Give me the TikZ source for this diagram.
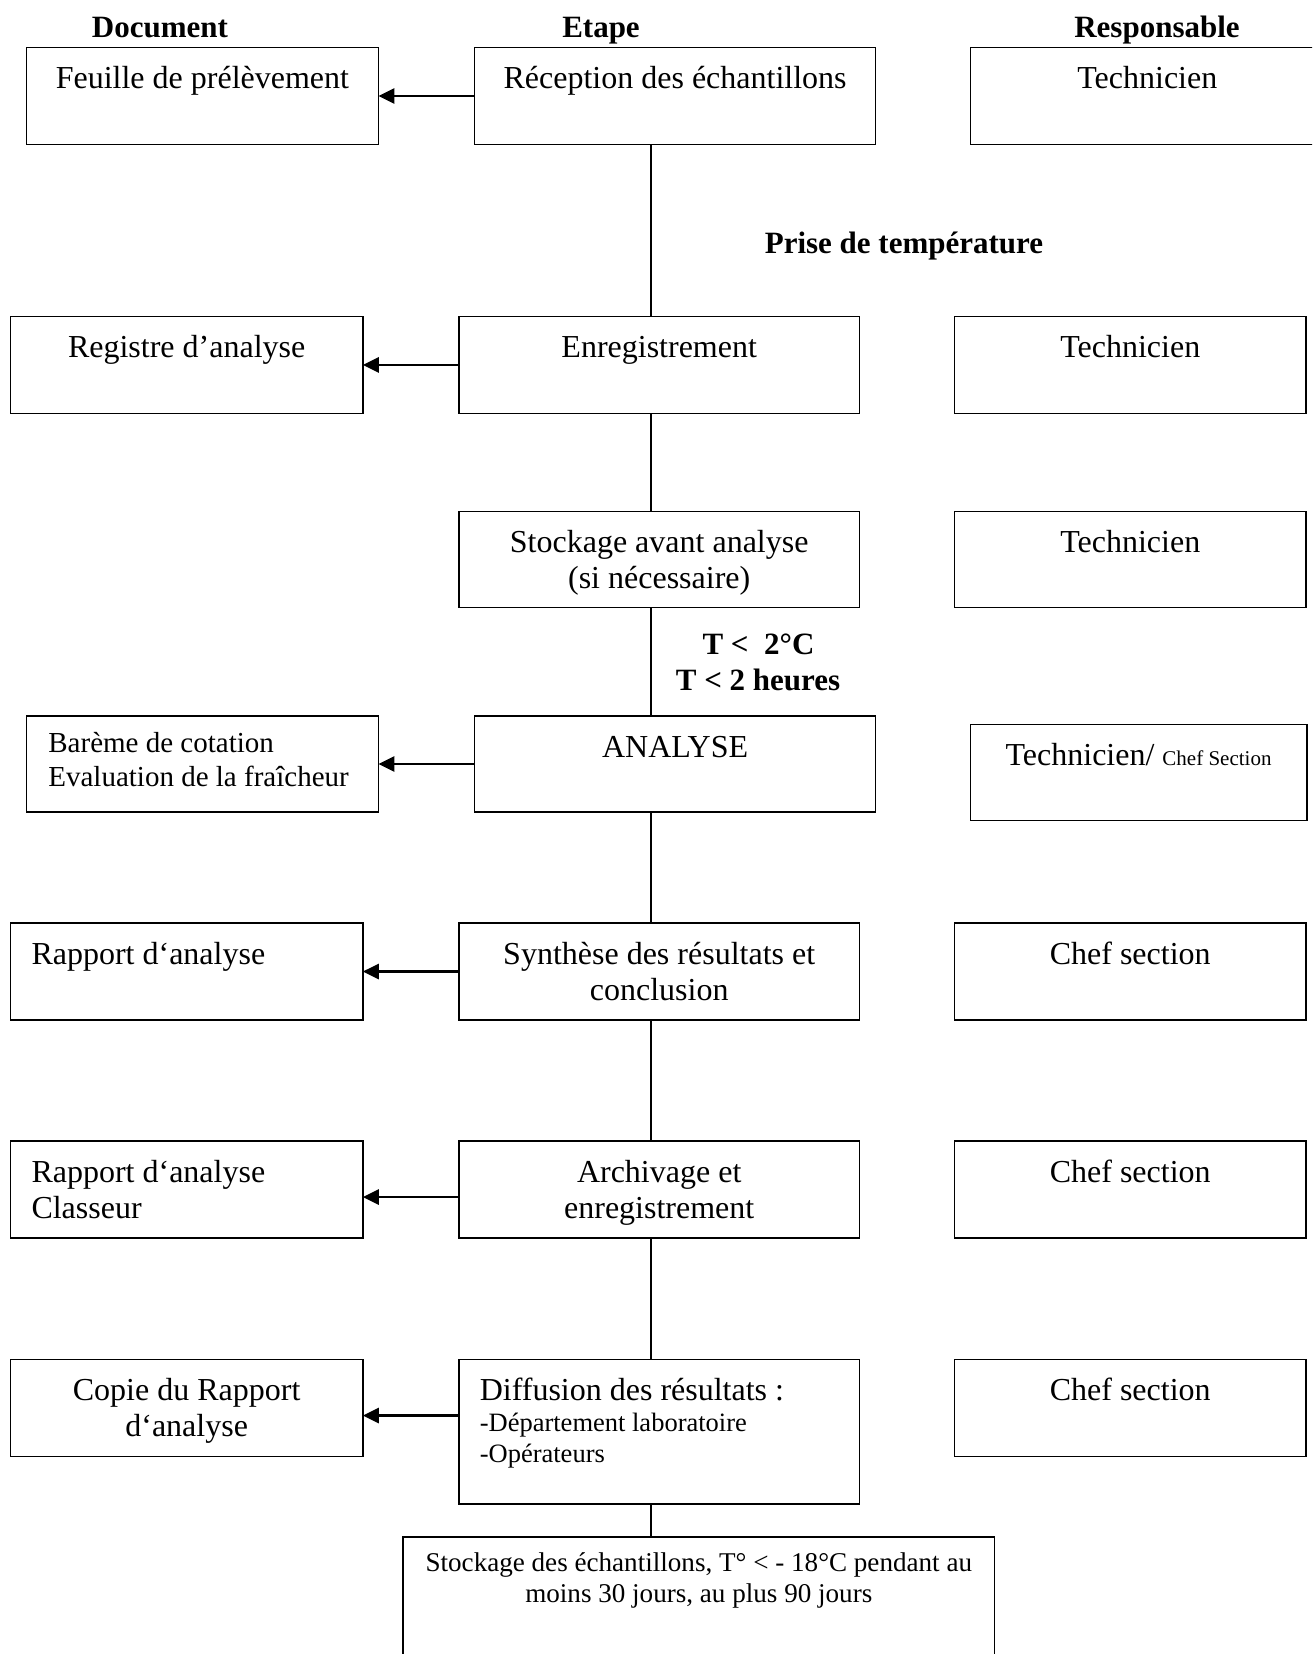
\documentclass[tikz,border=0pt]{standalone}
\usepackage{fontspec}
\setmainfont{Liberation Serif}
\usetikzlibrary{arrows.meta,calc}
\begin{document}
\begin{tikzpicture}[x=1pt,y=-1pt,
  box/.style={draw, rectangle, line width=1.6pt, inner sep=0pt, outer sep=0pt, anchor=north west},
  txt/.style={inner sep=0pt, outer sep=0pt, anchor=north, align=center, font=\fontsize{32}{36}\selectfont},
  txtl/.style={txt, anchor=north west, align=left},
  small/.style={inner sep=0pt, outer sep=0pt, anchor=north west, align=left, font=\fontsize{29}{34}\selectfont},
  sub/.style={inner sep=0pt, outer sep=0pt, anchor=north west, align=left, font=\fontsize{26.5}{31.6}\selectfont},
  foot/.style={inner sep=0pt, outer sep=0pt, anchor=north, align=center, font=\fontsize{27.1}{30.6}\selectfont},
  hdr/.style={inner sep=0pt, outer sep=0pt, anchor=base, align=center, font=\fontsize{31}{36}\selectfont\bfseries},
  arr/.style={line width=2.8pt, -{Triangle[length=16pt,width=15pt]}},
  link/.style={line width=1.4pt}]

% page frame
\clip (0,0) rectangle (1312,1654);
\fill[white] (0,0) rectangle (1312,1654);

% column headings
\node[hdr] (h-doc) at (160,37.5) {Document};
\node[hdr] (h-step) at (601,37.5) {Etape};
\node[hdr] (h-resp) at (1157,37.5) {Responsable};

% row 1
\node[box, minimum width=352pt, minimum height=97pt] (feuille) at (26.4,47.5) {};
\node[box, minimum width=401pt, minimum height=97pt] (recep) at (474.6,47.5) {};
\node[box, minimum width=354pt, minimum height=97pt] (resp1) at (970.3,47.5) {};
\node[txt] (feuille-t) at ($(feuille.north)+(0,16.2)$) {\strut Feuille de prélèvement};
\node[txt] (recep-t) at ($(recep.north)+(0,16.2)$) {\strut Réception des échantillons};
\node[txt] (resp1-t) at ($(resp1.north)+(0,16.2)$) {\strut Technicien};

\node[hdr] (prise) at (904,253.5) {Prise de température};

% row 2
\node[box, minimum width=352.3pt, minimum height=97pt] (registre) at (10.5,316.4) {};
\node[box, minimum width=400.8pt, minimum height=97pt] (enreg) at (458.8,316.4) {};
\node[box, minimum width=351.5pt, minimum height=97pt] (resp2) at (954.5,316.4) {};
\node[txt] (registre-t) at ($(registre.north)+(0,16.2)$) {\strut Registre d’analyse};
\node[txt] (enreg-t) at ($(enreg.north)+(0,16.2)$) {\strut Enregistrement};
\node[txt] (resp2-t) at ($(resp2.north)+(0,16.2)$) {\strut Technicien};

% row 3
\node[box, minimum width=400.8pt, minimum height=96pt] (stock) at (458.8,511.5) {};
\node[box, minimum width=351.5pt, minimum height=96pt] (resp3) at (954.5,511.5) {};
\node[txt] (stock-t) at ($(stock.north)+(0,16.2)$) {\strut Stockage avant analyse\\(si nécessaire)};
\node[txt] (resp3-t) at ($(resp3.north)+(0,16.2)$) {\strut Technicien};

\node[hdr] (cond1) at (758.5,654) {T < ~2°C};
\node[hdr] (cond2) at (758,690.3) {T < 2 heures};

% row 4
\node[box, minimum width=352pt, minimum height=96pt] (bareme) at (26.4,716) {};
\node[box, minimum width=401pt, minimum height=96pt] (analyse) at (474.6,716) {};
\node[box, minimum width=336.5pt, minimum height=96pt] (resp4) at (970.3,724.6) {};
\node[small] (bareme-t) at ($(bareme.north west)+(22,13)$) {\strut Barème de cotation\\Evaluation de la fraîcheur};
\node[txt] (analyse-t) at ($(analyse.north)+(0,16.2)$) {\strut ANALYSE};
\node[txt] (resp4-t) at ($(resp4.north)+(0,15.2)$) {\strut Technicien/ {\fontsize{21}{24}\selectfont Chef Section}};

% row 5
\node[box, minimum width=352.3pt, minimum height=97pt] (rapport) at (10.5,923) {};
\node[box, minimum width=400.8pt, minimum height=97pt] (synth) at (458.8,923) {};
\node[box, minimum width=351.5pt, minimum height=97pt] (resp5) at (954.5,923) {};
\node[txtl] (rapport-t) at ($(rapport.north west)+(21,16.2)$) {\strut Rapport d‘analyse};
\node[txt] (synth-t) at ($(synth.north)+(0,16.2)$) {\strut Synthèse des résultats et\\conclusion};
\node[txt] (resp5-t) at ($(resp5.north)+(0,16.2)$) {\strut Chef section};

% row 6
\node[box, minimum width=352.3pt, minimum height=97pt] (rapport2) at (10.5,1141) {};
\node[box, minimum width=400.8pt, minimum height=97pt] (archiv) at (458.8,1141) {};
\node[box, minimum width=351.5pt, minimum height=97pt] (resp6) at (954.5,1141) {};
\node[txtl] (rapport2-t) at ($(rapport2.north west)+(21,16.2)$) {\strut Rapport d‘analyse\\Classeur};
\node[txt] (archiv-t) at ($(archiv.north)+(0,16.2)$) {\strut Archivage et\\enregistrement};
\node[txt] (resp6-t) at ($(resp6.north)+(0,16.2)$) {\strut Chef section};

% row 7
\node[box, minimum width=352.3pt, minimum height=97pt] (copie) at (10.5,1359.5) {};
\node[box, minimum width=400.8pt, minimum height=144.5pt] (diff) at (458.8,1359.5) {};
\node[box, minimum width=351.5pt, minimum height=97pt] (resp7) at (954.5,1359.5) {};
\node[txt] (copie-t) at ($(copie.north)+(0,16.2)$) {\strut Copie du Rapport\\d‘analyse};
\node[txtl] (diff-t) at ($(diff.north west)+(21,16.2)$) {\strut Diffusion des résultats :};
\node[sub] (diff-s) at ($(diff.north west)+(21,49.5)$) {\strut -Département laboratoire\\-Opérateurs};
\node[txt] (resp7-t) at ($(resp7.north)+(0,16.2)$) {\strut Chef section};

% final storage
\node[box, minimum width=591.6pt, minimum height=140pt] (final) at (403,1536.7) {};
\node[foot] (final-t) at ($(final.north)+(0,13.5)$) {\strut Stockage des échantillons, T° < - 18°C pendant au\\moins 30 jours, au plus 90 jours};

% main flow line
\coordinate (spine) at (651,0);
\draw[link] (recep.south -| spine) -- (enreg.north -| spine);
\draw[link] (enreg.south -| spine) -- (stock.north -| spine);
\draw[link] (stock.south -| spine) -- (analyse.north -| spine);
\draw[link] (analyse.south -| spine) -- (synth.north -| spine);
\draw[link] (synth.south -| spine) -- (archiv.north -| spine);
\draw[link] (archiv.south -| spine) -- (diff.north -| spine);
\draw[link] (diff.south -| spine) -- (final.north -| spine);

% document arrows
\draw[arr] (recep.west) -- (feuille.east);
\draw[arr] (enreg.west) -- (registre.east);
\draw[arr] (analyse.west) -- (bareme.east);
\draw[arr] (synth.west) -- (rapport.east);
\coordinate (a6) at ($(rapport2.east)+(0,7.5)$);
\draw[arr] (archiv.west |- a6) -- (a6);
\coordinate (a7) at ($(copie.east)+(0,7.5)$);
\draw[arr] (diff.west |- a7) -- (a7);
\end{tikzpicture}
\end{document}
